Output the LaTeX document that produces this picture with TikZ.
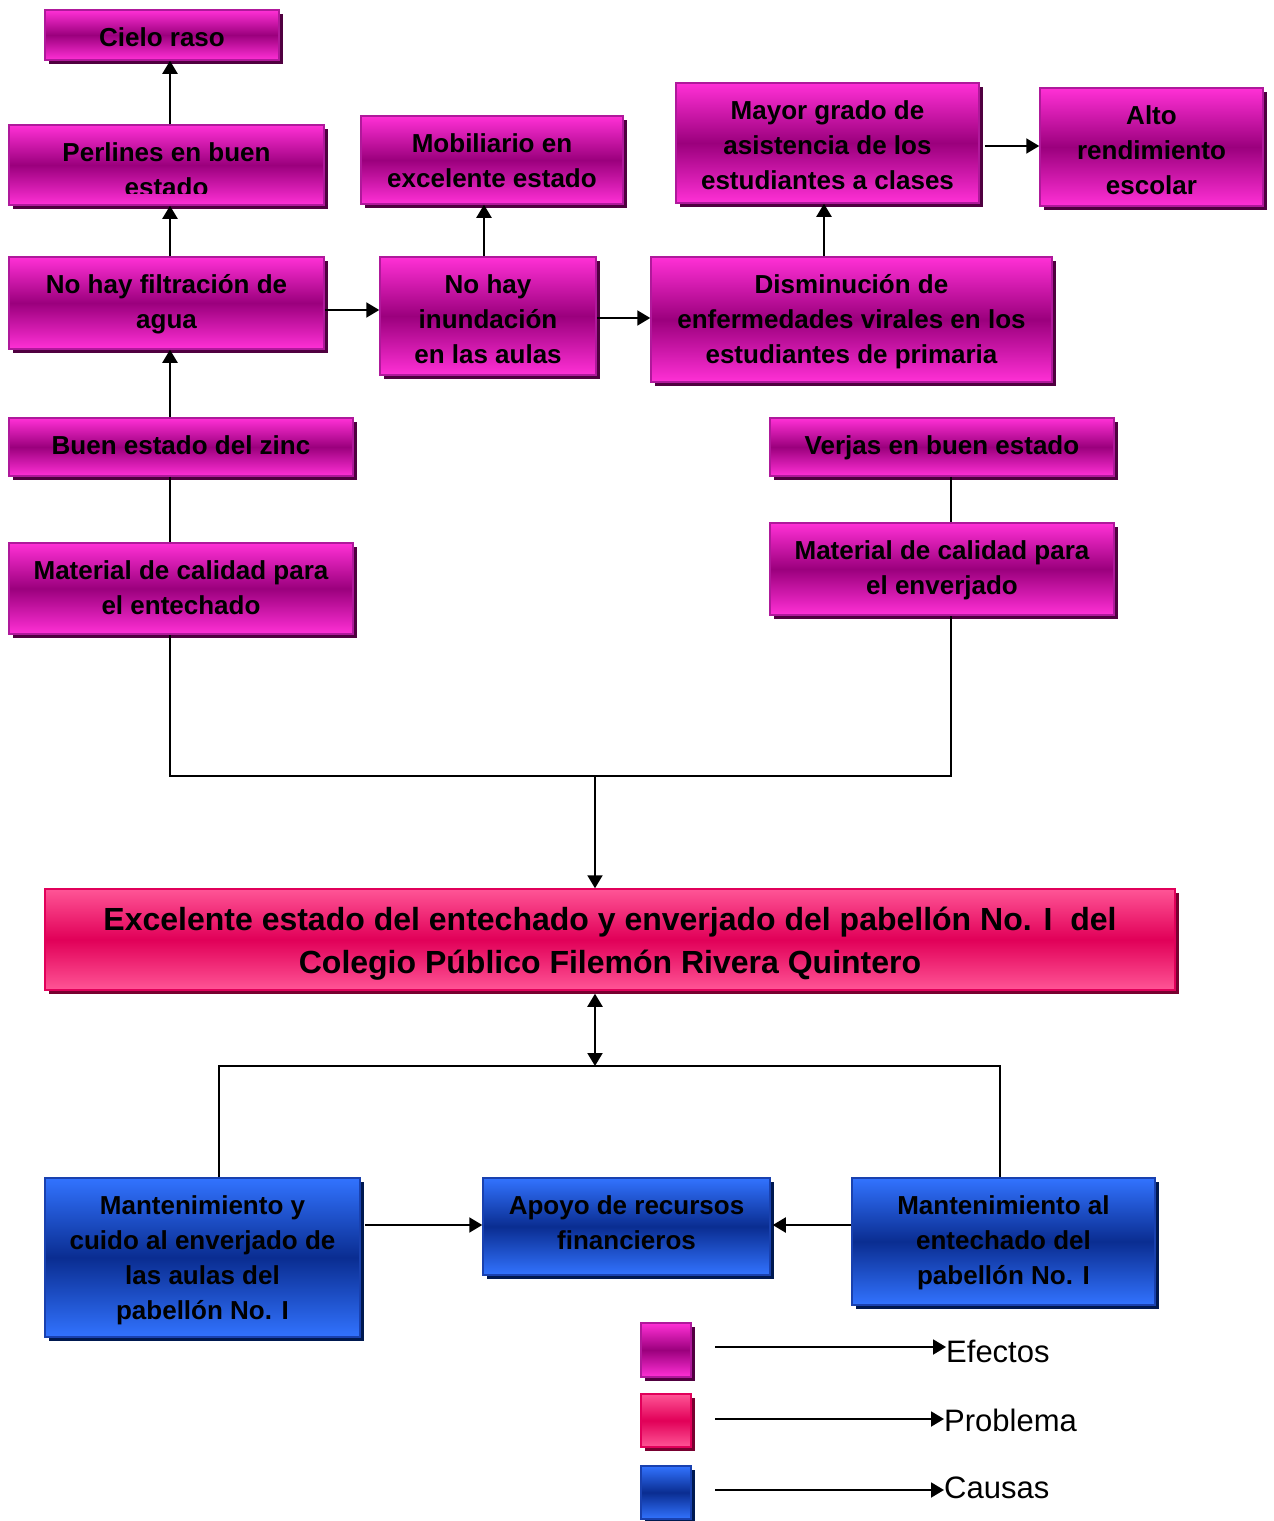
\documentclass[tikz,border=0pt]{standalone}
\usepackage{fontspec}
\setmainfont{Liberation Sans}
\usetikzlibrary{arrows.meta,calc}

\definecolor{mgLight}{RGB}{255,48,214}
\definecolor{mgDark}{RGB}{155,0,125}
\definecolor{mgEdge}{RGB}{175,25,155}
\definecolor{mgShadow}{RGB}{80,0,64}
\definecolor{pkLight}{RGB}{255,85,150}
\definecolor{pkDark}{RGB}{225,0,88}
\definecolor{pkEdge}{RGB}{225,0,90}
\definecolor{pkShadow}{RGB}{120,0,48}
\definecolor{blLight}{RGB}{50,115,255}
\definecolor{blDark}{RGB}{10,45,145}
\definecolor{blEdge}{RGB}{25,65,175}
\definecolor{blShadow}{RGB}{0,25,80}

\newcommand{\stA}{\rule{0pt}{37pt}}
\newcommand{\stB}{\rule{0pt}{42pt}}

\tikzset{
  box/.style={rectangle, inner sep=0pt, line width=1.5pt},
  efecto/.style={box, draw=mgEdge, top color=mgLight, bottom color=mgLight, middle color=mgDark,
    preaction={fill=mgShadow, transform canvas={xshift=4pt,yshift=-4pt}}},
  problema/.style={box, draw=pkEdge, top color=pkLight, bottom color=pkLight, middle color=pkDark,
    preaction={fill=pkShadow, transform canvas={xshift=4pt,yshift=-4pt}}},
  causa/.style={box, draw=blEdge, top color=blLight, bottom color=blLight, middle color=blDark,
    preaction={fill=blShadow, transform canvas={xshift=4pt,yshift=-4pt}}},
  txt/.style={anchor=north, inner sep=0pt, align=center,
    font=\fontsize{26}{35}\selectfont\bfseries},
  bigtxt/.style={anchor=north, inner sep=0pt, align=center,
    font=\fontsize{32}{43}\selectfont\bfseries},
  arr/.style={line width=2pt, -{Triangle[length=13pt,width=15pt]}},
  arrboth/.style={line width=2pt, {Triangle[length=13pt,width=15pt]}-{Triangle[length=13pt,width=15pt]}},
  ln/.style={line width=1.5pt},
  leglabel/.style={anchor=west, inner sep=0pt, font=\fontsize{31}{36}\selectfont},
}

\begin{document}
\begin{tikzpicture}[x=1pt,y=-1pt]
\useasboundingbox (0,0) rectangle (1274,1521);
\fill[white] (0,0) rectangle (1274,1521);

% Effects
\node[efecto, minimum width=234, minimum height=50] (cielo) at (162,35) {};
\node[txt] (cielo-t) at (cielo.north) {\stA Cielo raso};
\node[efecto, minimum width=315, minimum height=80] (perl) at (166.5,165) {};
\begin{scope}
\clip (perl.north west) rectangle ([yshift=12pt]perl.south east);
\node[txt] (perl-t) at (perl.north) {\stA Perlines en buen\\estado};
\end{scope}
\node[efecto, minimum width=262, minimum height=88] (mob) at (492,160) {};
\node[txt] (mob-t) at (mob.north) {\stA Mobiliario en\\excelente estado};
\node[efecto, minimum width=303, minimum height=120] (mayor) at (827.5,143) {};
\node[txt] (mayor-t) at (mayor.north) {\stA Mayor grado de\\asistencia de los\\estudiantes a clases};
\node[efecto, minimum width=223, minimum height=118] (alto) at (1151.5,147) {};
\node[txt] (alto-t) at (alto.north) {\stA Alto\\rendimiento\\escolar};
\node[efecto, minimum width=315, minimum height=92] (filt) at (166.5,303) {};
\node[txt] (filt-t) at (filt.north) {\stA No hay filtración de\\agua};
\node[efecto, minimum width=216, minimum height=118] (inund) at (488,316) {};
\node[txt] (inund-t) at (inund.north) {\stA No hay\\inundación\\en las aulas};
\node[efecto, minimum width=401, minimum height=125] (dism) at (851.5,319.5) {};
\node[txt] (dism-t) at (dism.north) {\stA Disminución de\\enfermedades virales en los\\estudiantes de primaria};
\node[efecto, minimum width=344, minimum height=58] (zinc) at (181,447) {};
\node[txt] (zinc-t) at (zinc.north) {\stA Buen estado del zinc};
\node[efecto, minimum width=344, minimum height=58] (verjas) at (942,447) {};
\node[txt] (verjas-t) at (verjas.north) {\stA Verjas en buen estado};
\node[efecto, minimum width=344, minimum height=91] (matent) at (181,588.5) {};
\node[txt] (matent-t) at (matent.north) {\stA Material de calidad para\\el entechado};
\node[efecto, minimum width=344, minimum height=92] (matenv) at (942,569) {};
\node[txt] (matenv-t) at (matenv.north) {\stA Material de calidad para\\el enverjado};

% Problem
\node[problema, minimum width=1130, minimum height=101] (prob) at (610,939.5) {};
\node[bigtxt] (prob-t) at (prob.north) {\stB Excelente estado del entechado y enverjado del pabellón No. I\ \ del\\Colegio Público Filemón Rivera Quintero};

% Causes
\node[causa, minimum width=315, minimum height=159] (mant1) at (202.5,1257.5) {};
\node[txt] (mant1-t) at (mant1.north) {\stA Mantenimiento y\\cuido al enverjado de\\las aulas del\\pabellón No. I};
\node[causa, minimum width=287, minimum height=97] (apoyo) at (626.5,1226.5) {};
\node[txt] (apoyo-t) at (apoyo.north) {\stA Apoyo de recursos\\financieros};
\node[causa, minimum width=303, minimum height=127] (mant2) at (1003.5,1241.5) {};
\node[txt] (mant2-t) at (mant2.north) {\stA Mantenimiento al\\entechado del\\pabellón No. I};

% helper coordinates
\coordinate (cA) at (170,0);
\coordinate (cB) at (951,0);
\coordinate (jL) at (170,776);
\coordinate (jR) at (951,776);
\coordinate (jM) at (595,776);
\coordinate (cInu) at (484,0);
\coordinate (cDis) at (824,0);
\coordinate (r1) at (0,310);
\coordinate (r2) at (0,318);
\coordinate (r3) at (0,146);
\coordinate (jB) at (595,1066);
\coordinate (jBL) at (219,1066);
\coordinate (jBR) at (1000,1066);
\coordinate (r4) at (0,1225);

% connectors (effects)
\draw[arr] (perl.north -| cA) -- (cielo.south -| cA);
\draw[arr] (filt.north -| cA) -- (perl.south -| cA);
\draw[arr] (zinc.north -| cA) -- (filt.south -| cA);
\draw[ln] (zinc.south -| cA) -- (matent.north -| cA);
\draw[ln] (matent.south -| cA) -- (jL) -- (jR) -- (matenv.south -| cB);
\draw[ln] (verjas.south -| cB) -- (matenv.north -| cB);
\draw[arr] (jM) -- (prob.north -| jM);
\draw[arr] (filt.east |- r1) -- (inund.west |- r1);
\draw[arr] (inund.east |- r2) -- (dism.west |- r2);
\draw[arr] (inund.north -| cInu) -- (mob.south -| cInu);
\draw[arr] (dism.north -| cDis) -- (mayor.south -| cDis);
\draw[arr] ([xshift=5pt]mayor.east |- r3) -- (alto.west |- r3);

% connectors (causes)
\draw[arrboth] ([yshift=-3pt]prob.south -| jB) -- (jB);
\draw[ln] (mant1.north -| jBL) -- (jBL) -- (jBR) -- (mant2.north -| jBR);
\draw[arr] ([xshift=4pt]mant1.east |- r4) -- (apoyo.west |- r4);
\draw[arr] (mant2.west |- r4) -- ([xshift=2pt]apoyo.east |- r4);

% legend
\node[efecto, minimum width=50, minimum height=54] (sq1) at (666,1350) {};
\node[problema, minimum width=50, minimum height=53] (sq2) at (666,1420.5) {};
\node[causa, minimum width=50, minimum height=53] (sq3) at (666,1492.5) {};
\node[leglabel] (l1) at (946,1351) {Efectos};
\node[leglabel] (l2) at (944,1420) {Problema};
\node[leglabel] (l3) at (944,1488) {Causas};
\coordinate (s1) at (715,1347);
\coordinate (s2) at (715,1419);
\coordinate (s3) at (715,1490);
\draw[arr] (s1) -- (s1 -| l1.west);
\draw[arr] (s2) -- (s2 -| l2.west);
\draw[arr] (s3) -- (s3 -| l3.west);
\end{tikzpicture}
\end{document}
